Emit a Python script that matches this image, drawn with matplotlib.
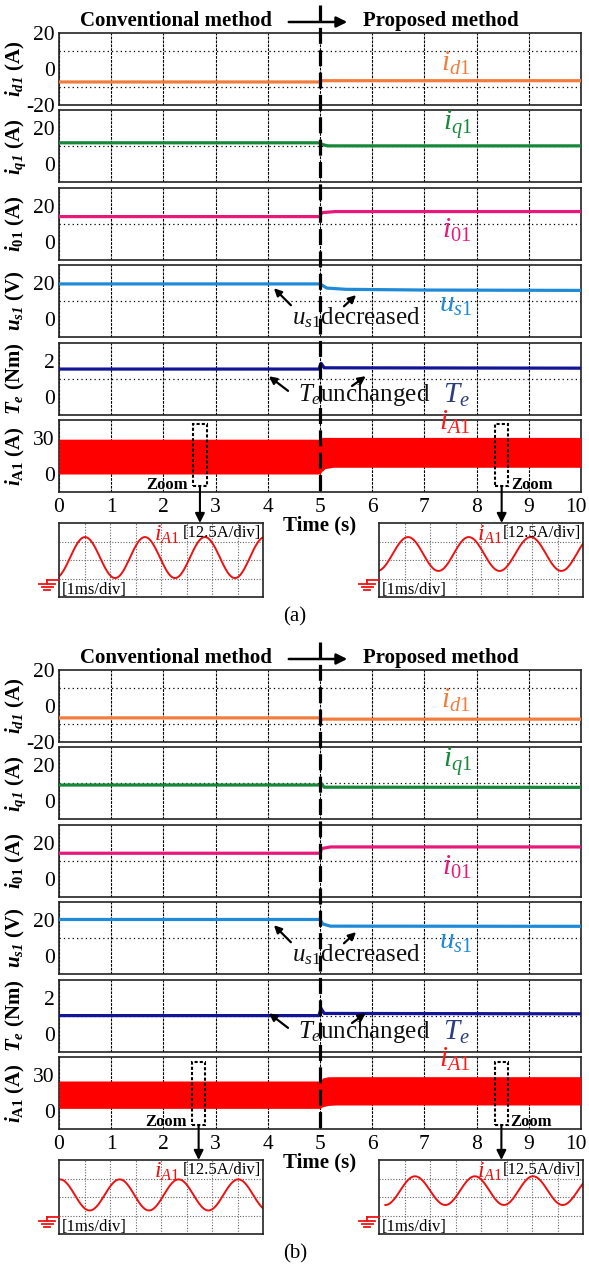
import matplotlib.pyplot as plt
import numpy as np
from matplotlib.lines import Line2D
from matplotlib.patches import Rectangle, FancyArrowPatch, ConnectionPatch
from matplotlib.transforms import blended_transform_factory, ScaledTranslation

W, H = 589, 1267

plt.rcParams['font.family'] = ['Liberation Serif', 'DejaVu Serif']
plt.rcParams['mathtext.fontset'] = 'custom'
plt.rcParams['mathtext.rm'] = 'Liberation Serif'
plt.rcParams['mathtext.it'] = 'Liberation Serif:italic'
plt.rcParams['mathtext.bf'] = 'Liberation Serif:bold'
plt.rcParams['mathtext.bfit'] = 'Liberation Serif:bold:italic'
plt.rcParams['axes.unicode_minus'] = False

SWITCH_T = 5.0
x_ticks = list(range(11))

# ---------- case (a) : slow signals ----------
a_id1_t = [0, 5.0, 5.02, 10]
a_id1 = [-7.2, -7.2, -6.5, -6.5]
a_iq1_t = [0, 5.0, 5.05, 5.15, 10]
a_iq1 = [12.0, 12.0, 11.0, 10.3, 10.3]
a_i01_t = [0, 5.0, 5.03, 5.3, 10]
a_i01 = [14.0, 14.0, 16.2, 16.8, 16.8]
a_us1_t = [0, 5.0, 5.13, 5.5, 7.0, 10]
a_us1 = [19.6, 19.6, 17.3, 16.6, 16.2, 16.0]
a_te_t = [0, 4.98, 5.02, 5.08, 10]
a_te = [1.53, 1.53, 1.85, 1.6, 1.58]
# i_A1 envelope (dense sine drawn as a band)
a_ia_t = [0, 5.0, 5.03, 5.1, 5.25, 10]
a_ia_hi = [29.0, 29.0, 30.5, 30.5, 30.5, 30.5]
a_ia_lo = [0.0, 0.0, 2.0, 4.5, 5.6, 5.6]
# zoomed i_A1 waveforms: extrema (time in ms, current in A)
a_zl_t = [-0.15, 1.02, 2.2, 3.37, 4.55, 5.72, 6.9, 8.07]
a_zl_v = [0.3, 28.0, 0.3, 28.0, 0.3, 28.0, 0.3, 28.0]
a_zr_t = [-0.07, 1.14, 2.33, 3.52, 4.73, 5.95, 7.15, 8.35]
a_zr_v = [5.1, 28.0, 5.1, 28.0, 5.1, 28.0, 5.1, 28.0]

# ---------- case (b) ----------
b_id1_t = [0, 5.0, 5.02, 5.06, 10]
b_id1 = [-6.6, -6.6, -7.8, -7.3, -7.3]
b_iq1_t = [0, 5.0, 5.03, 5.08, 10]
b_iq1 = [9.1, 9.1, 9.8, 7.9, 7.8]
b_i01_t = [0, 5.0, 5.03, 5.2, 10]
b_i01 = [14.2, 14.2, 16.8, 17.7, 17.7]
b_us1_t = [0, 5.0, 5.05, 5.1, 5.2, 10]
b_us1 = [20.4, 20.4, 18.0, 17.5, 16.7, 16.6]
b_te_t = [0, 4.98, 5.02, 5.08, 10]
b_te = [1.0, 1.0, 1.4, 1.12, 1.1]
b_ia_t = [0, 5.0, 5.05, 5.15, 5.3, 10]
b_ia_hi = [25.0, 25.0, 27.5, 28.5, 28.6, 28.6]
b_ia_lo = [2.2, 2.2, 3.5, 4.6, 5.0, 5.0]
b_zl_t = [-1.13, 0.04, 1.2, 2.38, 3.53, 4.69, 5.86, 7.03, 8.2]
b_zl_v = [3.4, 24.4, 3.4, 24.4, 3.4, 24.4, 3.4, 24.4, 3.4]
b_zr_t = [0.25, 1.41, 2.6, 3.76, 4.9, 6.04, 7.2, 8.4]
b_zr_v = [7.1, 26.5, 7.1, 26.5, 7.1, 26.5, 7.1, 26.5]

# zoom windows on the i_A1 trace (time s, current A)
a_zoom_boxes = [(2.57, 2.83, -10.0, 41.7), (8.35, 8.61, -10.0, 41.7)]
b_zoom_boxes = [(2.55, 2.80, -11.7, 40.6), (8.35, 8.60, -11.7, 40.6)]

# panel styling
ylabels = [r'$\mathbfit{i}_{\mathbfit{d1}}$ (A)', r'$\mathbfit{i}_{\mathbfit{q1}}$ (A)',
           r'$\mathbfit{i}_{\mathbf{01}}$ (A)', r'$\mathbfit{u}_{\mathbfit{s1}}$ (V)',
           r'$\mathbfit{T}_{\mathbfit{e}}$ (Nm)', r'$\mathbfit{i}_{\mathbf{A1}}$ (A)']
names = [r'$i_{\mathit{d1}}$', r'$i_{\mathit{q1}}$', r'$i_{\mathit{01}}$', r'$u_{\mathit{s1}}$',
         r'$T_e$', r'$i_{\mathit{A1}}$']
name_pos = [(0.759, 0.576), (0.764, 0.80), (0.762, 0.41), (0.76, 0.45), (0.762, 0.26), (0.759, 0.96)]
colors = ['#f27c3c', '#17873a', '#e8177a', '#1f8ad8', '#141496', '#ff0000']
name_colors = ['#f27c3c', '#17873a', '#e8177a', '#1f8ad8', '#2b3d7c', '#ff1a1a']
ylims = [(-20, 20), (-10, 30), (-10, 30), (-10, 30), (-1, 3), (-15, 45)]
yticks = [[-20, 0, 20], [0, 20], [0, 20], [0, 20], [0, 2], [0, 30]]
ygrids = [[-10, 0, 10], [0, 10, 20], [0, 10, 20], [0, 10, 20], [0, 1, 2], [0, 15, 30]]
RED = '#ee1111'


def px(x, y):
    return x / W, 1 - y / H


def rect(x0, y0, x1, y1):
    return [x0 / W, 1 - y1 / H, (x1 - x0) / W, (y1 - y0) / H]


def wave(ax, t_ext, v_ext):
    xs, ys = [], []
    for i in range(len(t_ext) - 1):
        s = np.linspace(0, 1, 30)
        xs.append(t_ext[i] + (t_ext[i + 1] - t_ext[i]) * s)
        ys.append(v_ext[i] + (v_ext[i + 1] - v_ext[i]) * (1 - np.cos(np.pi * s)) / 2)
    ax.plot(np.concatenate(xs), np.concatenate(ys), color=RED, lw=1.4)


def ground(fig, x, y):
    kw = dict(transform=fig.transFigure, color=RED, lw=1.3)
    fig.add_artist(Line2D(*zip(px(x, y), px(x + 12, y)), **kw))
    fig.add_artist(Line2D(*zip(px(x, y), px(x, y + 4)), **kw))
    for dy, hw in [(4, 8), (7, 5.5), (10, 3)]:
        fig.add_artist(Line2D(*zip(px(x - hw, y + dy), px(x + hw, y + dy)), **kw))


def draw_case(fig, off, lines, band, boxes, waves, tag):
    axes = []
    for k in range(6):
        top = 33 + off + 77.4 * k
        ax = fig.add_axes(rect(59, top, 581, top + 72))
        ax.set_xlim(0, 10)
        ax.set_ylim(*ylims[k])
        ax.set_xticks(x_ticks)
        ax.set_yticks(yticks[k])
        ax.set_yticks(ygrids[k], minor=True)
        ax.tick_params(which='both', length=0, labelsize=15.5, pad=3)
        ax.tick_params(axis='x', labelbottom=(k == 5), pad=4)
        ax.grid(axis='x', which='major', color='k', lw=0.8, linestyle=(0, (2.5, 1)))
        ax.grid(axis='y', which='minor', color='k', lw=0.9, linestyle=(0, (1, 2.5)))
        ax.set_axisbelow(True)
        for sp in ax.spines.values():
            sp.set_linewidth(1.2)
            sp.set_color('#222222')
        ax.set_ylabel(ylabels[k], fontsize=15, fontweight='bold', va='center')
        ax.yaxis.set_label_coords(-0.083, 0.5)
        if k < 5:
            t, v = lines[k]
            ax.plot(t, v, color=colors[k], lw=2.3, zorder=3)
        else:
            t, hi, lo = band
            ax.fill_between(t, lo, hi, color=colors[k], lw=0, zorder=3)
            # keep the last tick label "10" inside the canvas
            last = ax.get_xticklabels()[-1]
            last.set_transform(last.get_transform() + ScaledTranslation(-4 / 72, 0, fig.dpi_scale_trans))
        ax.text(*name_pos[k], names[k], transform=ax.transAxes, ha='center', va='center',
                fontsize=21, color=name_colors[k], clip_on=False, zorder=5)
        axes.append(ax)

    # annotations for u_s1 and T_e
    for ax, txt, arrows in [
        (axes[3], r'$u_{\mathit{s1}}$decreased', [((0.448, 0.417), (0.408, 0.708)), ((0.542, 0.403), (0.573, 0.611))]),
        (axes[4], r'$T_e$unchanged', [((0.443, 0.306), (0.398, 0.556)), ((0.557, 0.375), (0.592, 0.556))]),
    ]:
        ax.text(0.584 if 'T' in txt else 0.569, 0.27, txt, transform=ax.transAxes, ha='center',
                va='center', fontsize=18, color='#111111', zorder=6)
        for tail, head in arrows:
            ax.annotate('', xy=head, xytext=tail, xycoords='axes fraction', textcoords='axes fraction',
                        arrowprops=dict(arrowstyle='-|>', color='k', lw=1.6, mutation_scale=11), zorder=6)

    # method switch line and headings
    tr = blended_transform_factory(axes[0].transData, fig.transFigure)
    fig.add_artist(Line2D([SWITCH_T, SWITCH_T], [1 - (off + 5) / H, 1 - (off + 492) / H],
                          transform=tr, color='k', lw=2.3, dashes=(5, 2), zorder=10))
    fig.text(*px(176, off + 21), 'Conventional method', ha='center', va='center',
             fontsize=15, fontweight='bold')
    fig.text(*px(441, off + 21), 'Proposed method', ha='center', va='center',
             fontsize=15, fontweight='bold')
    fig.add_artist(FancyArrowPatch(px(286, off + 22), px(350, off + 22), transform=fig.transFigure,
                                   arrowstyle='-|>', mutation_scale=16, color='k', lw=1.8))
    fig.text(*px(320, off + 525), 'Time (s)', ha='center', va='center', fontsize=15, fontweight='bold')
    fig.text(*px(295, off + 617), tag, ha='center', va='center', fontsize=15)

    # zoomed insets
    ax_ia = axes[5]
    for j, ((x0, x1, y0, y1), (wt, wv)) in enumerate(zip(boxes, waves)):
        ax_ia.add_patch(Rectangle((x0, y0), x1 - x0, y1 - y0, fill=False, ec='k', lw=1.5,
                                  linestyle=(0, (1.5, 1)), clip_on=False, zorder=6))
        ix0 = 59 if j == 0 else 379
        ins = fig.add_axes(rect(ix0, off + 523, ix0 + 204, off + 597))
        ins.set_xlim(0, 8)
        ins.set_ylim(-12.5, 37.5)
        ins.set_xticks(range(1, 8))
        ins.set_yticks([0, 12.5, 25])
        ins.tick_params(length=0, labelbottom=False, labelleft=False)
        ins.grid(color='#666666', lw=0.8, linestyle=(0, (1, 1.5)))
        for sp in ins.spines.values():
            sp.set_linewidth(1.2)
            sp.set_color('#222222')
        wave(ins, wt, wv)
        ins.text(0.53 if j == 0 else 0.545, 0.84, r'$i_{\mathit{A1}}$', transform=ins.transAxes, ha='center',
                 va='center', fontsize=17, color=RED)
        ins.text(0.99, 0.87, '[12.5A/div]', transform=ins.transAxes, ha='right', va='center', fontsize=12)
        ins.text(0.015, 0.1, '[1ms/div]', transform=ins.transAxes, ha='left', va='center', fontsize=12)
        ground(fig, ix0 - 12, off + 580)
        xm = (x0 + x1) / 2
        con = ConnectionPatch(xyA=(xm, y0), coordsA=ax_ia.transData,
                              xyB=(xm, 1.0), coordsB=blended_transform_factory(ax_ia.transData, ins.transAxes),
                              arrowstyle='-|>', mutation_scale=14, color='k', lw=1.5, zorder=7)
        fig.add_artist(con)
        if j == 0:
            ax_ia.text(x0 - 0.1, 0.1, 'Zoom', transform=blended_transform_factory(ax_ia.transData, ax_ia.transAxes),
                       ha='right', va='center', fontsize=12, fontweight='bold', zorder=7)
        else:
            ax_ia.text(x1 + 0.05, 0.1, 'Zoom', transform=blended_transform_factory(ax_ia.transData, ax_ia.transAxes),
                       ha='left', va='center', fontsize=12, fontweight='bold', zorder=7)


fig = plt.figure(figsize=(W / 100, H / 100), dpi=100)

draw_case(fig, 0,
          [(a_id1_t, a_id1), (a_iq1_t, a_iq1), (a_i01_t, a_i01), (a_us1_t, a_us1), (a_te_t, a_te)],
          (a_ia_t, a_ia_hi, a_ia_lo), a_zoom_boxes,
          [(a_zl_t, a_zl_v), (a_zr_t, a_zr_v)], '(a)')
draw_case(fig, 637,
          [(b_id1_t, b_id1), (b_iq1_t, b_iq1), (b_i01_t, b_i01), (b_us1_t, b_us1), (b_te_t, b_te)],
          (b_ia_t, b_ia_hi, b_ia_lo), b_zoom_boxes,
          [(b_zl_t, b_zl_v), (b_zr_t, b_zr_v)], '(b)')

fig.savefig('out.png', dpi=100)
